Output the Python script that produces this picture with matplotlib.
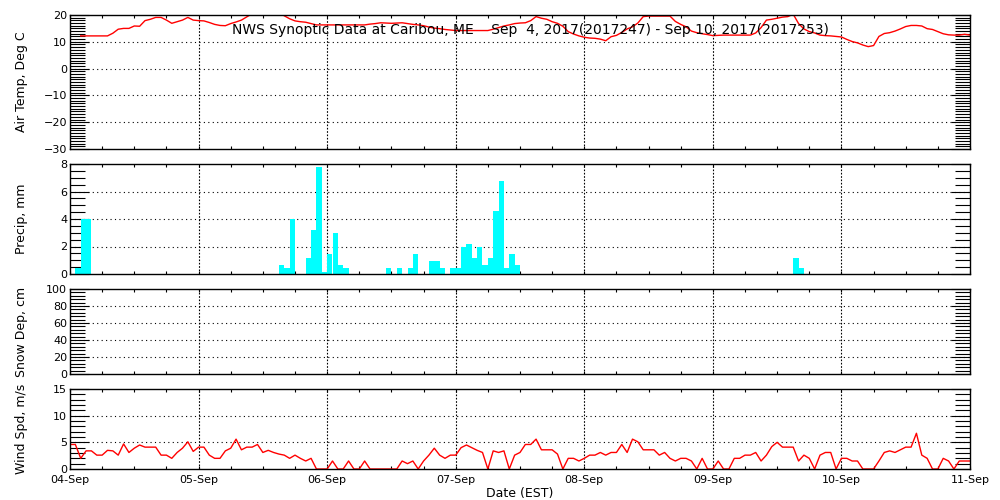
import numpy as np
import matplotlib
matplotlib.use('Agg')
from matplotlib import pyplot as plt
from matplotlib.ticker import MultipleLocator

# hourly data, hour 0 = 04-Sep 00:00 EST
day_labels = ['04-Sep', '05-Sep', '06-Sep', '07-Sep', '08-Sep', '09-Sep', '10-Sep', '11-Sep']

# air temperature, starts at hour 2
temp_start = 2
temp = [12.2, 12.2, 12.2, 12.2, 12.2, 12.2, 13.2, 14.7, 15.0, 15.0, 15.9, 15.8,
        17.9, 18.4, 19.1, 19.1, 18.1, 16.9, 17.5, 18.1, 19.1, 18.1,
        17.9, 17.8, 17.2, 16.5, 16.1, 16.0, 16.8, 17.4, 18.1, 19.3, 20.5, 21.0,
        21.0, 21.0, 21.0, 21.0, 19.7, 18.6, 17.8, 17.5, 17.3, 16.8, 16.3, 16.3,
        16.3, 16.3, 16.3, 16.3, 16.3, 16.3, 16.3, 16.3, 16.6, 16.8, 17.1, 17.0,
        16.9, 17.0, 17.1, 16.8, 16.5, 16.3, 16.0, 15.5, 15.1, 14.9, 14.6, 14.4,
        14.2, 14.2, 14.2, 14.2, 14.2, 14.2, 14.2, 14.7, 15.3, 15.9, 16.3, 16.8,
        17.0, 17.1, 17.9, 19.4, 18.8, 18.4, 17.5, 16.9, 15.8, 13.8, 12.9, 12.2,
        11.7, 11.4, 11.3, 11.0, 10.4, 11.9, 12.4, 13.5, 14.8, 15.6, 17.0, 19.4,
        19.6, 19.6, 19.6, 19.6, 19.6, 17.6, 16.5, 15.6, 14.0, 13.4, 13.0, 12.7,
        12.3, 12.4, 12.5, 12.5, 12.5, 12.5, 12.5, 12.5, 13.3, 15.3, 18.1, 18.4,
        18.8, 19.2, 19.4, 20.3, 16.8, 14.8, 13.8, 13.3, 12.5, 12.3, 12.2, 12.0,
        11.8, 10.9, 10.1, 9.6, 8.8, 8.2, 8.6, 12.0, 13.1, 13.4, 14.0, 14.8,
        15.7, 16.1, 16.1, 15.9, 14.9, 14.6, 13.8, 13.0, 12.6, 12.5, 12.5, 12.8, 12.5]

# hourly precipitation (only non-zero hours)
precip_hours = [1, 2, 3, 39, 40, 41, 44, 45, 46, 47, 48, 49, 50, 51, 59, 61, 63, 64,
                67, 68, 69, 71, 72, 73, 74, 75, 76, 77, 78, 79, 80, 81, 82, 83, 135, 136]
precip = [0.46, 4.0, 4.0, 0.66, 0.41, 4.0, 1.14, 3.2, 7.8, 0.12, 1.46, 3.0, 0.66, 0.41,
          0.41, 0.41, 0.41, 1.46, 0.95, 0.95, 0.41, 0.41, 0.41, 2.0, 2.2, 1.14, 2.0,
          0.66, 1.14, 4.55, 6.8, 0.41, 1.46, 0.66, 1.14, 0.41]

# wind speed, hour 0..168
wind = [4.6, 4.6, 2.0, 3.4, 3.4, 2.6, 2.6, 3.5, 3.4, 2.6, 4.7, 3.1, 3.9, 4.5, 4.1, 4.1,
        4.1, 2.6, 2.6, 2.0, 3.1, 3.9, 5.1, 3.3,
        4.1, 4.1, 2.6, 2.0, 2.0, 3.4, 3.9, 5.6, 3.6, 4.1, 4.1, 4.6, 3.1, 3.5, 3.1, 2.8,
        2.6, 2.0, 2.6, 2.0, 1.5, 2.0, 0, 0,
        0, 1.5, 0, 0, 1.5, 0, 0, 1.5, 0, 0, 0, 0, 0, 0, 1.5, 1.0, 1.5, 0, 1.5, 2.6, 3.9,
        2.6, 2.0, 2.6,
        2.6, 4.0, 4.5, 4.0, 3.5, 3.1, 0, 3.4, 3.1, 3.4, 0, 2.6,
        3.1, 4.6, 4.6, 5.6, 3.6, 3.6, 3.6, 2.8, 0, 2.0, 2.0, 1.5,
        2.0, 2.6, 2.6, 3.1, 2.6, 3.1, 3.1, 4.6, 3.1, 5.6, 5.1, 3.6, 3.6, 3.6, 2.6, 3.1,
        2.0, 1.5, 2.0, 2.0, 1.5, 0, 2.0, 0,
        0, 1.5, 0, 0, 2.0, 2.0, 2.6, 2.6, 3.1, 1.5, 2.6, 4.2, 5.0, 4.1, 4.1, 4.1,
        1.5, 2.6, 2.0, 0, 2.6, 3.1, 3.1, 0,
        2.0, 2.0, 1.5, 1.5, 0, 0, 0, 1.5, 3.1, 3.4, 3.1, 3.6, 4.1, 4.1, 6.7, 2.6,
        2.0, 0, 0, 2.0, 1.5, 0, 1.5, 1.5, 1.5]

snow_hours = []
snow = []

title = 'NWS Synoptic Data at Caribou, ME    Sep  4, 2017(2017247) - Sep 10, 2017(2017253)'

fig = plt.figure(figsize=(10, 5), dpi=100)
plt.rcParams['font.family'] = ['DejaVu Sans']

# [left, bottom, width, height] in figure fraction
boxes = [[0.07, 0.702, 0.9, 0.268],
         [0.07, 0.452, 0.9, 0.220],
         [0.07, 0.252, 0.9, 0.170],
         [0.07, 0.062, 0.9, 0.160]]
ylims = [(-30, 20), (0, 8), (0, 100), (0, 15)]
majors = [10, 2, 20, 5]
minors = [1, 0.5, 4, 1]
ylabels = ['Air Temp, Deg C', 'Precip, mm', 'Snow Dep, cm', 'Wind Spd, m/s']

axes = []
for box, ylim, mj, mn, lab in zip(boxes, ylims, majors, minors, ylabels):
    ax = fig.add_axes(box)
    ax.set_xlim(0, 168)
    ax.set_ylim(*ylim)
    ax.xaxis.set_major_locator(MultipleLocator(24))
    ax.xaxis.set_minor_locator(MultipleLocator(6))
    ax.yaxis.set_major_locator(MultipleLocator(mj))
    ax.yaxis.set_minor_locator(MultipleLocator(mn))
    ax.tick_params(axis='y', which='major', direction='in', length=14, width=0.8,
                   left=True, right=True, labelsize=8, pad=2)
    ax.tick_params(axis='y', which='minor', direction='in', length=10.5, width=0.8,
                   left=True, right=True)
    ax.tick_params(axis='x', which='both', direction='in', length=2.5, width=0.8,
                   top=True, bottom=True, labelbottom=False, labelsize=8, pad=4)
    for s in ax.spines.values():
        s.set_linewidth(1.0)
    # dotted grid, skip the frame edges
    for yv in np.arange(ylim[0] + mj, ylim[1], mj):
        ax.axhline(yv, color='black', lw=0.8, ls=(0, (1, 3)), zorder=1)
    for xv in range(24, 168, 24):
        ax.axvline(xv, color='black', lw=0.8, ls=(0, (1.5, 1.5)), zorder=1)
    ax.set_ylabel(lab, fontsize=9)
    ax.yaxis.set_label_coords(-0.047, 0.5)
    axes.append(ax)

ax1, ax2, ax3, ax4 = axes

ax1.plot(np.arange(temp_start, temp_start + len(temp)), temp, color='red', lw=1)
ax2.bar(precip_hours, precip, width=1.0, align='edge', color='cyan', zorder=2)
ax3.plot(snow_hours, snow, color='red', lw=1)
ax4.plot(np.arange(len(wind)), wind, color='red', lw=1)

ax4.tick_params(axis='x', labelbottom=True)
ax4.set_xticks(range(0, 169, 24))
ax4.set_xticklabels(day_labels)
ax4.set_xlabel('Date (EST)', fontsize=9, labelpad=2)

fig.text(0.53, 0.94, title, ha='center', va='center', fontsize=10)

fig.savefig('out.png', dpi=100)
